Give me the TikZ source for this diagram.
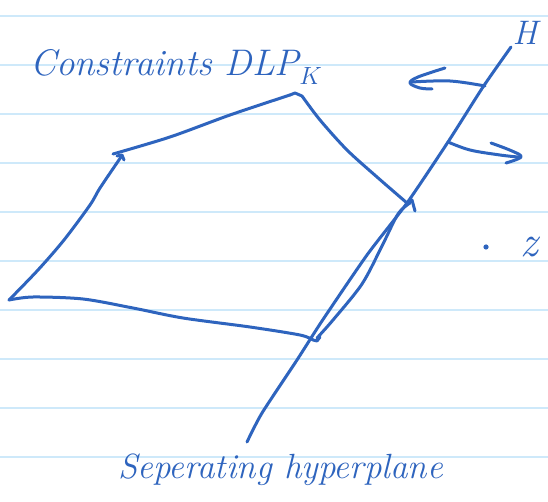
\documentclass[tikz,border=0pt]{standalone}
\usepackage{tikz}
\definecolor{ink}{RGB}{46,100,190}
\definecolor{rule}{RGB}{206,233,250}
\begin{document}
\begin{tikzpicture}[x=1pt,y=-1pt,
  pen/.style={draw=ink,line width=3pt,line cap=round,line join=round},
  ruled/.style={draw=rule,line width=1.4pt},
  hand/.style={text=ink,font=\itshape,inner sep=0pt}]
\useasboundingbox[fill=white] (0,0) rectangle (548,502);
% ruled paper
\foreach \yy in {16,65,114,163,212,261,310,359,408,457}
  \draw[ruled] (0,\yy) -- (548,\yy);
% polygon (constraints)
\draw[pen] plot[smooth,tension=0.5] coordinates {(9,300) (38,270) (64,240) (90,205) (100,188) (121,157)};
\draw[pen] (117,156) -- (122,155) -- (124,160);
\draw[pen] plot[smooth,tension=0.5] coordinates {(113,154) (170,137) (230,115) (290,95)};
\draw[pen] (290,95) -- (295,93) -- (302,96);
\draw[pen] plot[smooth,tension=0.5] coordinates {(302,96) (320,120) (347,150) (377,177) (407,203)};
\draw[pen] (407,203) -- (412,200) -- (415,211);
\draw[pen] plot[smooth,tension=0.5] coordinates {(9,300) (33,297) (83,299) (133,308) (183,318) (250,327) (300,335) (313,340)};
\draw[pen] (313,340) -- (317,341) -- (320,337);
\draw[pen] plot[smooth,tension=0.5] coordinates {(317,338) (333,320) (362,284) (382,246) (398,214) (410,203)};
% separating hyperplane H
\coordinate (htop) at (511,47);
\coordinate (hbot) at (247,442);
\draw[pen] plot[smooth,tension=0.4] coordinates {(htop) (483,87) (448,142) (407,203) (367,255) (322,321) (297,360) (262,413) (hbot)};
\node[hand,font=\fontsize{34}{38}\selectfont\itshape] (H) at (525,33) {H};
% left arrow
\draw[pen] plot[smooth,tension=0.6] coordinates {(485,86) (450,81) (412,82)};
\draw[pen] plot[smooth,tension=0.6] coordinates {(445,68) (418,77) (410,83) (420,88) (432,89)};
% right arrow
\draw[pen] plot[smooth,tension=0.6] coordinates {(448,142) (470,150) (500,155) (518,157)};
\draw[pen] plot[smooth,tension=0.6] coordinates {(491,143) (512,151) (521,157) (506,163)};
% point z
\fill[ink] (486,247) circle (2.6pt);
\node[hand,font=\fontsize{44}{48}\selectfont\itshape] (z) at (529,247) {z};
% labels
\node[hand,font=\fontsize{37}{40}\selectfont\itshape,anchor=base west] (title) at (30,76) {Constraints DLP$_K$};
\node[hand,font=\fontsize{35}{38}\selectfont\itshape,anchor=base west] (sep) at (118,478) {Seperating hyperplane};
\end{tikzpicture}
\end{document}
